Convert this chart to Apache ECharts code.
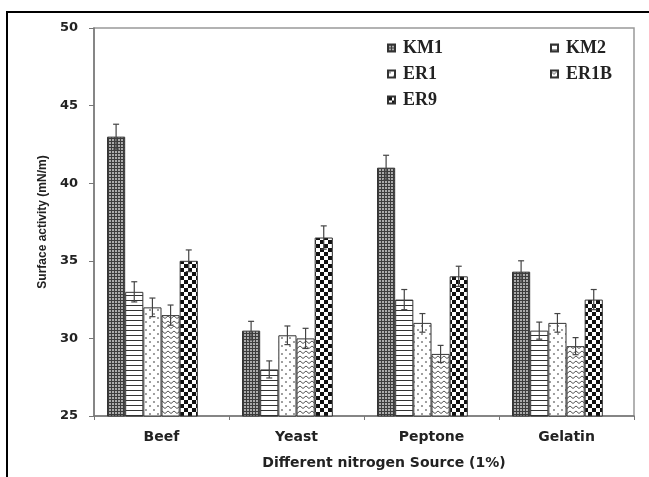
<!DOCTYPE html>
<html>
<head>
<meta charset="utf-8">
<script src="https://cdn.jsdelivr.net/npm/echarts@6/dist/echarts.min.js"></script>
<style>html,body{margin:0;padding:0;background:#fff;}#c{width:649px;height:477px;}</style>
</head>
<body>
<div id="c"></div>
<script>
const categories = ['Beef', 'Yeast', 'Peptone', 'Gelatin'];
const seriesNames = ['KM1', 'KM2', 'ER1', 'ER1B', 'ER9'];
const km1 = [43, 30.5, 41, 34.3];
const km2 = [33, 28, 32.5, 30.5];
const er1 = [32, 30.2, 31, 31];
const er1b = [31.5, 30, 29, 29.5];
const er9 = [35, 36.5, 34, 32.5];
const km1Err = [0.8, 0.6, 0.8, 0.7];
const km2Err = [0.65, 0.55, 0.65, 0.55];
const er1Err = [0.6, 0.6, 0.6, 0.6];
const er1bErr = [0.65, 0.65, 0.55, 0.55];
const er9Err = [0.7, 0.75, 0.65, 0.65];
const yMin = 25, yMax = 50, yStep = 5;

const values = [km1, km2, er1, er1b, er9];
const errors = [km1Err, km2Err, er1Err, er1bErr, er9Err];

function makePattern(w, h, draw) {
  const c = document.createElement('canvas');
  c.width = w; c.height = h;
  const ctx = c.getContext('2d');
  ctx.fillStyle = '#fff'; ctx.fillRect(0, 0, w, h);
  draw(ctx);
  return { image: c, repeat: 'repeat' };
}
const patterns = [
  makePattern(3, 3, ctx => { ctx.fillStyle = '#3c3c3c'; ctx.fillRect(0, 0, 3, 3); ctx.fillStyle = '#ababab'; ctx.fillRect(1, 1, 2, 2); }),
  makePattern(4, 5, ctx => { ctx.fillStyle = '#333'; ctx.fillRect(0, 0, 4, 1); }),
  makePattern(8, 8, ctx => { ctx.fillStyle = '#8a8a8a'; ctx.beginPath(); ctx.arc(2, 2, 1.1, 0, Math.PI * 2); ctx.arc(6, 6, 1.1, 0, Math.PI * 2); ctx.fill(); }),
  makePattern(6, 5, ctx => { ctx.strokeStyle = '#555'; ctx.lineWidth = 1; ctx.beginPath(); ctx.moveTo(0, 1); ctx.lineTo(3, 3.5); ctx.lineTo(6, 1); ctx.stroke(); }),
  makePattern(8, 8, ctx => { ctx.fillStyle = '#111'; ctx.fillRect(0, 0, 4, 4); ctx.fillRect(4, 4, 4, 4); })
];

const gapPct = 0.193;
const nSlots = 6;

const errData = [];
values.forEach((arr, si) => arr.forEach((v, ci) => errData.push([ci, si, v, errors[si][ci]])));

const series = seriesNames.map((name, i) => ({
  name: name,
  type: 'bar',
  data: values[i],
  barGap: 0,
  barCategoryGap: (gapPct * 100) + '%',
  itemStyle: { color: patterns[i], borderColor: '#333', borderWidth: 1 }
}));
series.push({
  name: 'slot',
  type: 'bar',
  data: categories.map(() => null),
  barGap: 0,
  barCategoryGap: (gapPct * 100) + '%',
  silent: true
});
series.push({
  type: 'custom',
  data: errData,
  encode: { x: 0, y: 2 },
  silent: true,
  z: 10,
  renderItem: function (params, api) {
    const ci = api.value(0), si = api.value(1), v = api.value(2), e = api.value(3);
    const band = api.size([1, 0])[0];
    const groupW = band * (1 - gapPct);
    const bw = groupW / nSlots;
    const c = api.coord([ci, v]);
    const x = c[0] - groupW / 2 + (si + 0.5) * bw;
    const yt = api.coord([ci, v + e])[1];
    const yb = api.coord([ci, v - e])[1];
    const cap = 3;
    const st = { stroke: '#444', lineWidth: 1.2 };
    return {
      type: 'group',
      children: [
        { type: 'line', shape: { x1: x, y1: yt, x2: x, y2: yb }, style: st },
        { type: 'line', shape: { x1: x - cap, y1: yt, x2: x + cap, y2: yt }, style: st },
        { type: 'line', shape: { x1: x - cap, y1: yb, x2: x + cap, y2: yb }, style: st }
      ]
    };
  }
});

const legendText = { fontFamily: 'Liberation Serif', fontWeight: 'bold', fontSize: 18, color: '#222', padding: [0, 0, 0, 3] };

const chart = echarts.init(document.getElementById('c'), null, { renderer: 'canvas' });
chart.setOption({
  animation: false,
  backgroundColor: '#fff',
  grid: { left: 94, right: 15, top: 28, bottom: 61, show: true, borderColor: '#999', borderWidth: 1.5, backgroundColor: 'transparent' },
  legend: [
    { orient: 'vertical', left: 382, top: 34, data: ['KM1', 'ER1', 'ER9'], icon: 'rect', itemWidth: 7, itemHeight: 7, itemGap: 8, textStyle: legendText },
    { orient: 'vertical', left: 545, top: 34, data: ['KM2', 'ER1B'], icon: 'rect', itemWidth: 7, itemHeight: 7, itemGap: 8, textStyle: legendText }
  ],
  xAxis: {
    type: 'category',
    data: categories,
    name: 'Different nitrogen Source (1%)',
    nameLocation: 'middle',
    nameGap: 40,
    nameTextStyle: { fontFamily: 'DejaVu Sans', fontWeight: 'bold', fontSize: 14, color: '#222', padding: [0, 0, 0, 40] },
    axisLine: { lineStyle: { color: '#777', width: 1.5 } },
    axisTick: { show: true, length: 4, lineStyle: { color: '#777' } },
    axisLabel: { margin: 14, fontFamily: 'DejaVu Sans', fontWeight: 'bold', fontSize: 14, color: '#222' }
  },
  yAxis: {
    type: 'value',
    min: yMin, max: yMax, interval: yStep,
    name: 'Surface activity (mN/m)',
    nameLocation: 'middle',
    nameGap: 42,
    nameTextStyle: { fontFamily: 'Liberation Sans', fontWeight: 'bold', fontSize: 12, color: '#222' },
    axisLine: { show: true, lineStyle: { color: '#777', width: 1.5 } },
    axisTick: { show: true, length: 5, lineStyle: { color: '#777' } },
    splitLine: { show: false },
    axisLabel: { margin: 16, fontFamily: 'DejaVu Sans', fontWeight: 'bold', fontSize: 13, color: '#222' }
  },
  graphic: [
    { type: 'rect', shape: { x: 7, y: 12, width: 700, height: 520 }, style: { fill: null, stroke: '#000', lineWidth: 2 }, silent: true }
  ],
  series: series
});
</script>
</body>
</html>
